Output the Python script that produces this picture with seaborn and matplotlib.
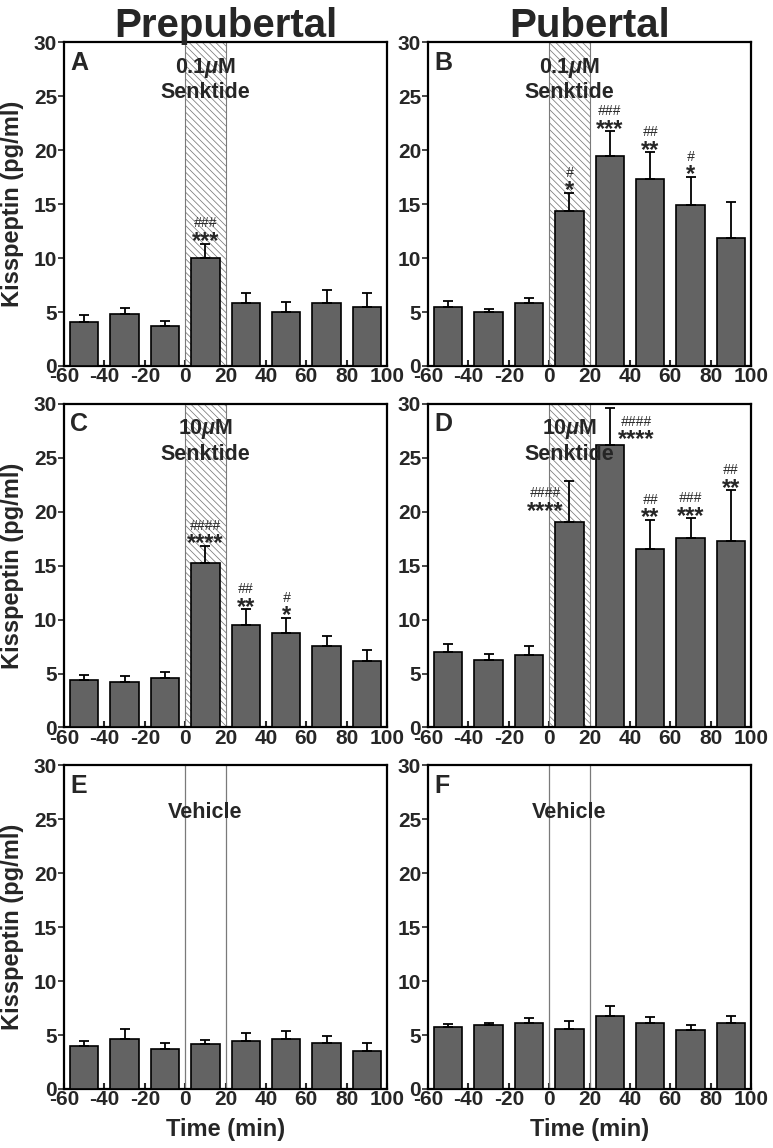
import numpy as np
import pandas as pd
import matplotlib
import matplotlib.pyplot as plt
import seaborn as sns
from matplotlib import font_manager

# ---- data ----
times = [-50, -30, -10, 10, 30, 50, 70, 90]

mean_A = [4.1, 4.8, 3.7, 10.0, 5.8, 5.0, 5.8, 5.5]
sem_A = [0.65, 0.6, 0.5, 1.35, 1.0, 0.95, 1.25, 1.25]
sig_A = [0, 0, 0, 3, 0, 0, 0, 0]

mean_B = [5.45, 5.0, 5.85, 14.4, 19.45, 17.3, 14.95, 11.85]
sem_B = [0.55, 0.25, 0.5, 1.65, 2.3, 2.5, 2.6, 3.4]
sig_B = [0, 0, 0, 1, 3, 2, 1, 0]

mean_C = [4.45, 4.2, 4.6, 15.25, 9.5, 8.75, 7.6, 6.15]
sem_C = [0.4, 0.6, 0.55, 1.6, 1.45, 1.4, 0.85, 1.0]
sig_C = [0, 0, 0, 4, 2, 1, 0, 0]

mean_D = [7.0, 6.3, 6.75, 19.05, 26.15, 16.55, 17.6, 17.3]
sem_D = [0.7, 0.5, 0.85, 3.8, 3.45, 2.7, 1.8, 4.7]
sig_D = [0, 0, 0, 4, 4, 2, 3, 2]

mean_E = [4.0, 4.65, 3.7, 4.15, 4.45, 4.6, 4.3, 3.55]
sem_E = [0.45, 0.9, 0.6, 0.4, 0.75, 0.8, 0.65, 0.7]
sig_E = [0] * 8

mean_F = [5.75, 5.95, 6.15, 5.6, 6.8, 6.15, 5.5, 6.15]
sem_F = [0.3, 0.2, 0.45, 0.7, 0.85, 0.5, 0.45, 0.6]
sig_F = [0] * 8

treatments = {'A': '0.1$\\mu$M\nSenktide', 'B': '0.1$\\mu$M\nSenktide',
              'C': '10$\\mu$M\nSenktide', 'D': '10$\\mu$M\nSenktide',
              'E': 'Vehicle', 'F': 'Vehicle'}
col_titles = ['Prepubertal', 'Pubertal']

# ---- style ----
sns.set_style('ticks')
plt.rcParams['font.family'] = ['Liberation Sans', 'DejaVu Sans']
plt.rcParams['font.weight'] = 'bold'
plt.rcParams['axes.unicode_minus'] = False
plt.rcParams['mathtext.fontset'] = 'custom'
plt.rcParams['mathtext.it'] = 'Liberation Sans:bold:italic'
plt.rcParams['mathtext.rm'] = 'Liberation Sans:bold'
plt.rcParams['hatch.linewidth'] = 0.55
plt.rcParams['hatch.color'] = '#7a7a7a'

names = {f.name for f in font_manager.fontManager.ttflist}
if 'Liberation Sans Narrow' in names:
    title_font = dict(family=['Liberation Sans Narrow', 'Liberation Sans'], fontsize=34)
else:
    title_font = dict(family=['Liberation Sans'], fontsize=29)

fig = plt.figure(figsize=(7.73, 11.48), dpi=100)

lefts = [0.0828, 0.5537]
bottoms = [0.6812, 0.3663, 0.0514]
w, h = 0.418, 0.2818

panels = [('A', mean_A, sem_A, sig_A), ('B', mean_B, sem_B, sig_B),
          ('C', mean_C, sem_C, sig_C), ('D', mean_D, sem_D, sig_D),
          ('E', mean_E, sem_E, sig_E), ('F', mean_F, sem_F, sig_F)]

# annotation shifts (dx in min, dy in pg/ml) where labels sit beside the bar
label_shift = {('D', 3): (-12, -3.0), ('D', 4): (13, -3.1)}

for i, (letter, mean, sem, sig) in enumerate(panels):
    row, col = divmod(i, 2)
    ax = fig.add_axes([lefts[col], bottoms[row], w, h])

    if letter in 'EF':
        ax.axvline(0, color='#7a7a7a', lw=0.9, zorder=1)
        ax.axvline(20, color='#7a7a7a', lw=0.9, zorder=1)
    else:
        ax.axvspan(0, 20, facecolor='white', edgecolor='#7a7a7a',
                   hatch='\\' * 5, lw=0.8, zorder=1)

    df = pd.DataFrame({'time': times, 'kisspeptin': mean})
    sns.barplot(data=df, x='time', y='kisspeptin', native_scale=True,
                width=0.7, color='#636363', saturation=1, edgecolor='black',
                linewidth=1.2, errorbar=None, ax=ax, zorder=3)
    ax.errorbar(times, mean, yerr=[np.zeros(len(sem)), sem], fmt='none',
                ecolor='black', elinewidth=1.3, capsize=3.5, capthick=1.3,
                zorder=4)

    for j, n in enumerate(sig):
        if n == 0:
            continue
        top = mean[j] + sem[j]
        dx, dy = label_shift.get((letter, j), (0, 0))
        ax.text(times[j] + dx, top - 0.4 + dy, '*' * n, ha='center',
                va='baseline', fontsize=17, fontweight='bold', zorder=5)
        ax.text(times[j] + dx, top + 1.5 + dy, '#' * n, ha='center',
                va='baseline', fontsize=10, fontweight='normal',
                fontstyle='italic', zorder=5)

    ax.text(0.02, 0.975, letter, transform=ax.transAxes, ha='left', va='top',
            fontsize=18, fontweight='bold', zorder=6)
    if letter in 'EF':
        ax.text(10, 25.65, treatments[letter], ha='center', va='center',
                fontsize=15.5, fontweight='bold', zorder=6)
    else:
        ax.text(10, 28.75, treatments[letter], ha='center', va='top',
                fontsize=15.5, fontweight='bold', linespacing=1.15, zorder=6)

    ax.set_xlim(-60, 100)
    ax.set_ylim(0, 30)
    ax.set_xticks(range(-60, 101, 20))
    ax.set_yticks(range(0, 31, 5))
    ax.tick_params(axis='x', direction='in', length=4, width=1.5,
                   labelsize=15, pad=1)
    ax.tick_params(axis='y', direction='out', length=4, width=1.2,
                   labelsize=15, pad=1)
    for lab in ax.get_xticklabels() + ax.get_yticklabels():
        lab.set_fontweight('bold')
    for sp in ax.spines.values():
        sp.set_visible(True)
        sp.set_linewidth(1.6)
        sp.set_color('black')

    if col == 0:
        ax.set_ylabel('Kisspeptin (pg/ml)', fontsize=17, fontweight='bold')
        ax.yaxis.set_label_coords(-0.125, 0.5)
    else:
        ax.set_ylabel('')
    if row == 2:
        ax.set_xlabel('Time (min)', fontsize=17, fontweight='bold', labelpad=6)
    else:
        ax.set_xlabel('')

for col, title in enumerate(col_titles):
    fig.text(lefts[col] + w / 2, 0.977, title, ha='center', va='center',
             fontweight='bold', **title_font)

fig.savefig('out.png', dpi=100)
